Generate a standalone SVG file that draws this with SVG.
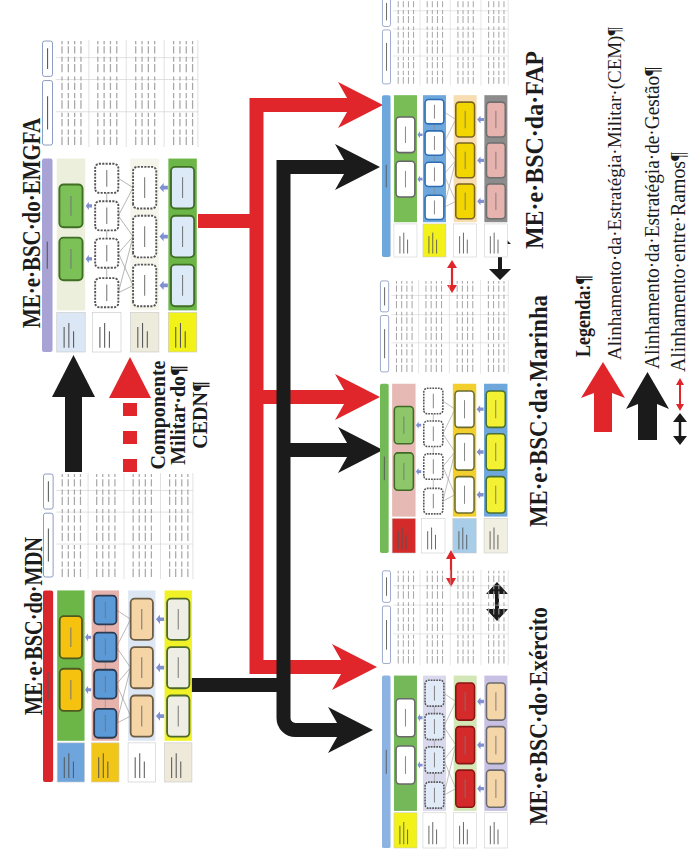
<svg xmlns="http://www.w3.org/2000/svg" xmlns:xlink="http://www.w3.org/1999/xlink" width="693" height="859" viewBox="0 0 693 859">
<defs>
<style>
.ttl{font-family:"Liberation Serif",serif;font-weight:bold;font-size:26px;fill:#1c1c1c}
.cm{font-family:"Liberation Serif",serif;font-weight:bold;font-size:20px;fill:#1c1c1c}
.lg{font-family:"Liberation Serif",serif;font-size:21px;fill:#1c1c1c}
.lgs{font-size:19.3px}
.lgb{font-family:"Liberation Serif",serif;font-weight:bold;font-size:22px;fill:#1c1c1c}
.hd{fill:var(--hd)}
.lb{stroke:#c9c9c9;stroke-width:0.6}
.l1{fill:var(--l1)}.l2{fill:var(--l2)}.l3{fill:var(--l3)}.l4{fill:var(--l4)}
.b1{fill:var(--b1)}.b2{fill:var(--b2)}.b3{fill:var(--b3)}.b4{fill:var(--b4)}
.o1{fill:var(--o1);stroke:var(--s1);stroke-width:1.8}
.o2{fill:var(--o2);stroke:var(--s2);stroke-width:1.8;stroke-dasharray:var(--d2,none)}
.o3{fill:var(--o3);stroke:var(--s3);stroke-width:1.8;stroke-dasharray:var(--d3,none)}
.o4{fill:var(--o4);stroke:var(--s4);stroke-width:1.8}
.lt{stroke:#555;stroke-width:1;fill:none}
.ot{stroke:#777;stroke-width:1;fill:none}
.ln{stroke:#8a8a8a;stroke-width:0.6;fill:none}
.ar{fill:#7f8fd0}
.tb{fill:#fff;stroke:#7587b5;stroke-width:0.8}
.tg{stroke:#cfcfcf;stroke-width:0.6;fill:none}
.ts{stroke:#a8a8a8;stroke-width:1.2;fill:none;stroke-dasharray:8 2 5 3 7 2 4 4}
.red{stroke:#e0262b;fill:none;stroke-width:14}
.blk{stroke:#1b1b1b;fill:none;stroke-width:14}
.rf{fill:#e0262b}
.bf{fill:#1b1b1b}
</style>
<!-- strategy map + scorecard panel, drawn unrotated in a 300 x 150 box -->
<g id="bsc">
 <rect class="hd" width="186" height="10" rx="2"/>
 <path class="lt" d="M80 5h26"/>
 <rect class="lb l1" y="14" width="38" height="27"/>
 <rect class="lb l2" y="48" width="38" height="27"/>
 <rect class="lb l3" y="84" width="38" height="27"/>
 <rect class="lb l4" y="120" width="38" height="27"/>
 <path class="lt" d="M4 21h20M4 25.5h24M4 30h16M4 55h20M4 59.5h24M4 64h16M4 91h20M4 95.5h24M4 100h16M4 127h20M4 131.5h24M4 136h16"/>
 <rect class="b1" x="40" y="14" width="146" height="27"/>
 <rect class="b2" x="40" y="48" width="146" height="27"/>
 <rect class="b3" x="40" y="84" width="146" height="27"/>
 <rect class="b4" x="40" y="120" width="146" height="27"/>
 <path class="ln" d="M64 86.5L57 72.5M64 86.5L95 72.5M111 86.5L95 72.5M111 86.5L131 72.5M158 86.5L131 72.5M158 86.5L167 72.5M111 86.5L57 72.5M71 61.5H81M109 61.5H117M145 61.5H153"/>
 <rect class="o1" x="69" y="16.5" width="41" height="22" rx="4"/>
 <rect class="o1" x="120" y="16.5" width="41" height="22" rx="4"/>
 <rect class="o2" x="43" y="50.5" width="28" height="22" rx="4"/>
 <rect class="o2" x="81" y="50.5" width="28" height="22" rx="4"/>
 <rect class="o2" x="117" y="50.5" width="28" height="22" rx="4"/>
 <rect class="o2" x="153" y="50.5" width="28" height="22" rx="4"/>
 <rect class="o3" x="44" y="86.5" width="40" height="22" rx="4"/>
 <rect class="o3" x="91" y="86.5" width="40" height="22" rx="4"/>
 <rect class="o3" x="138" y="86.5" width="40" height="22" rx="4"/>
 <rect class="o4" x="44" y="122.5" width="40" height="22" rx="4"/>
 <rect class="o4" x="91" y="122.5" width="40" height="22" rx="4"/>
 <rect class="o4" x="138" y="122.5" width="40" height="22" rx="4"/>
 <path class="ot" d="M80 27.5h19M131 27.5h19M49 61.5h16M87 61.5h16M123 61.5h16M159 61.5h16M54 97.5h20M101 97.5h20M148 97.5h20M54 133.5h20M101 133.5h20M148 133.5h20"/>
 <path class="ar" d="M89.5 41.5l4 3h-2.5v3h-3v-3h-2.5zM140.5 41.5l4 3h-2.5v3h-3v-3h-2.5zM64 111.5l4.5 4h-2.7v4h-3.6v-4h-2.7zM111 111.5l4.5 4h-2.7v4h-3.6v-4h-2.7zM158 111.5l4.5 4h-2.7v4h-3.6v-4h-2.7z"/>
 <rect class="tb" x="199" y="0.5" width="62" height="9.5" rx="2"/>
 <rect class="tb" x="265" y="0.5" width="34" height="9.5" rx="2"/>
 <path class="lt" d="M214 5.3h32M272 5.3h20"/>
 <path class="tg" d="M197 44.5H300M197 80H300M197 116H300M197 148H300M231 13V148M262 13V148M283 13V148"/>
 <path class="ts" d="M199 19H299M199 25H299M199 31H299M199 37H299M199 53H299M199 59H299M199 65H299M199 71H299M199 89H299M199 95H299M199 101H299M199 107H299M199 125H299M199 131H299M199 137H299M199 143H299"/>
</g>
<!-- barbed arrowhead pointing +y, tip at origin -->
<path id="ah" d="M0 0L-23 -45L0 -32L23 -45Z"/>
</defs>
<rect width="693" height="859" fill="#fff"/>
<!-- the whole page is laid out sideways: u runs bottom-to-top, v left-to-right -->
<g transform="matrix(0,-1,1,0,0,859)">
 <g id="connectors">
  <path class="red" d="M754 352V256.5H192V346"/>
  <path class="red" d="M462 256.5V349"/>
  <path class="red" d="M638 198V256.5"/>
  <use href="#ah" class="rf" x="754" y="383"/>
  <use href="#ah" class="rf" x="462" y="380"/>
  <use href="#ah" class="rf" x="192" y="377"/>
  <path class="blk" d="M692 349V283.5H141A12 12 0 0 0 129 295.5V342"/>
  <path class="blk" d="M409 283.5V352"/>
  <path class="blk" d="M174 190V283.5"/>
  <use href="#ah" class="bf" x="692" y="380"/>
  <use href="#ah" class="bf" x="409" y="383"/>
  <use href="#ah" class="bf" x="129" y="373"/>
  <!-- MDN to EMGFA -->
  <rect class="bf" x="387" y="65" width="77" height="17"/>
  <path class="bf" d="M504 73.5L462 52L462 95Z"/>
  <!-- Componente Militar do CEDN, dashed -->
  <path class="rf" d="M502 130L461 109L461 151Z"/>
  <rect class="rf" x="443" y="123" width="13" height="14"/>
  <rect class="rf" x="415" y="123" width="13" height="14"/>
  <rect class="rf" x="387" y="123" width="13" height="14"/>
  <!-- alignment between branches -->
  <path d="M574 452H591M281 451H300" stroke="#e0262b" stroke-width="2.2"/>
  <path class="rf" d="M566 452L574 447L574 457ZM599 452L591 447L591 457ZM272 451L281 446L281 456ZM309 451L300 446L300 456Z"/>
  <path d="M588 500H617M249 497H266" stroke="#1b1b1b" stroke-width="4"/>
  <path class="bf" d="M579 500L590 489L590 511ZM626 500L615 489L615 511ZM238 497L250 486L250 508ZM277 497L265 486L265 508Z"/>
 </g>
 <g id="emgfa">
  <use href="#bsc" transform="translate(507 42) scale(1.04 1.053)" style="--hd:#a8a3d4;--l1:#dbe7f4;--l2:#fff;--l3:#ecebdc;--l4:#f2f218;--b1:#ecefdc;--b2:#fff;--b3:#f5f5ec;--b4:#6cb648;--o1:#7cc157;--s1:#3f6e25;--o2:#fff;--s2:#555;--d2:2 1.2;--o3:#fff;--s3:#555;--d3:2 1.2;--o4:#dce9f6;--s4:#3f6e25"/>
  <text class="ttl" x="531" y="40" textLength="210" lengthAdjust="spacingAndGlyphs">ME·e·BSC·do·EMGFA</text>
 </g>
 <g id="mdn">
  <use href="#bsc" transform="translate(77 43) scale(1.03 1.013)" style="--hd:#d8262c;--l1:#6ea5dc;--l2:#f2c618;--l3:#fff;--l4:#efe9d9;--b1:#6cb648;--b2:#e6b3ac;--b3:#dde7f3;--b4:#f1f127;--o1:#f4c20f;--s1:#4f5b1e;--o2:#5b9ad6;--s2:#2b3b52;--o3:#f5d5a6;--s3:#6e5d46;--o4:#efeee4;--s4:#4d6a2b"/>
  <text class="ttl" x="144" y="42" textLength="178" lengthAdjust="spacingAndGlyphs">ME·e·BSC·do·MDN</text>
 </g>
 <g id="fap">
  <use href="#bsc" transform="translate(602 382) scale(0.87 0.853)" style="--hd:#6ea7dc;--l1:#fff;--l2:#f2f21a;--l3:#fff;--l4:#fff;--b1:#78bd55;--b2:#6ea7dc;--b3:#f7ddb0;--b4:#8c8c8c;--o1:#fff;--s1:#666;--o2:#fff;--s2:#2c6db3;--o3:#f3d600;--s3:#7a6420;--o4:#e7b3ae;--s4:#6f6f6f"/>
  <text class="ttl" x="610" y="543" textLength="198" lengthAdjust="spacingAndGlyphs">ME·e·BSC·da·FAP</text>
 </g>
 <g id="marinha">
  <use href="#bsc" transform="translate(306 380) scale(0.91 0.867)" style="--hd:#74b957;--l1:#d42a2a;--l2:#fff;--l3:#a8cde9;--l4:#f0efe2;--b1:#e6b9b4;--b2:#fff;--b3:#f3cf2e;--b4:#6ea7dc;--o1:#8dc76a;--s1:#3e6b27;--o2:#fff;--s2:#555;--d2:2 1.2;--o3:#fff;--s3:#6b6b30;--o4:#f4f133;--s4:#4a7030"/>
  <text class="ttl" x="332" y="547" textLength="232" lengthAdjust="spacingAndGlyphs">ME·e·BSC·da·Marinha</text>
 </g>
 <g id="exercito">
  <use href="#bsc" transform="translate(11 382) scale(0.927 0.853)" style="--hd:#8db3e2;--l1:#f2f21a;--l2:#fff;--l3:#fff;--l4:#fff;--b1:#74b85a;--b2:#d9d9ee;--b3:#d3e7b6;--b4:#c7c0e2;--o1:#fff;--s1:#6a6a6a;--o2:#e0ebf7;--s2:#555;--d2:2 1.2;--o3:#d42a2a;--s3:#8a1515;--o4:#f5d6a8;--s4:#6b6b6b"/>
  <text class="ttl" x="34" y="547" textLength="218" lengthAdjust="spacingAndGlyphs">ME·e·BSC·do·Exército</text>
 </g>
 <g id="cedn">
  <text class="cm" x="444" y="165" text-anchor="middle">Componente</text>
  <text class="cm" x="444" y="185" text-anchor="middle">Militar·do¶</text>
  <text class="cm" x="444" y="207" text-anchor="middle">CEDN¶</text>
 </g>
 <g id="legenda">
  <text class="lgb" x="502" y="590" textLength="82" lengthAdjust="spacingAndGlyphs">Legenda:¶</text>
  <path class="rf" d="M497 603L461 581L466 594H427V612H466L461 625Z"/>
  <text class="lg lgs" x="499" y="621" textLength="333" lengthAdjust="spacingAndGlyphs">Alinhamento·da·Estratégia·Militar·(CEM)¶</text>
  <path class="bf" d="M487 647.5L450 626L455 638H419V657H455L450 669Z"/>
  <text class="lg" x="490" y="659" textLength="302" lengthAdjust="spacingAndGlyphs">Alinhamento·da·Estratégia·de·Gestão¶</text>
  <path d="M422 680H438" stroke-width="2.5" stroke="#1b1b1b"/>
  <path d="M454 680H474" stroke-width="2" stroke="#e0262b"/>
  <path class="bf" d="M414 680L423 673L423 687ZM446 680L437 673L437 687Z"/>
  <path class="rf" d="M448 680L455 676L455 684ZM481 680L474 676L474 684Z"/>
  <text class="lg" x="487" y="685" textLength="220" lengthAdjust="spacingAndGlyphs">Alinhamento·entre·Ramos¶</text>
 </g>
</g>
</svg>
